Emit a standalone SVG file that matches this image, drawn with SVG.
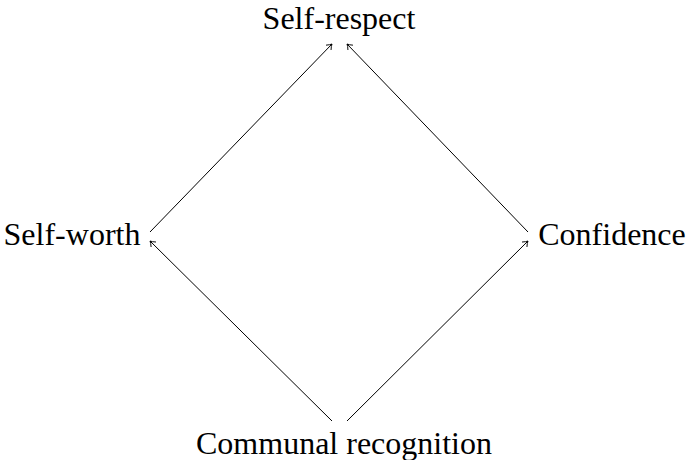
<svg xmlns="http://www.w3.org/2000/svg" width="686" height="460" viewBox="0 0 686 460">
<style>
text{font-family:"Liberation Serif","Times New Roman",serif;font-size:32px;fill:#000}
.c line{stroke:#000;stroke-width:1;fill:none;marker-end:url(#a)}
</style>
<defs>
<marker id="a" viewBox="-6 -4 7 8" refX="0" refY="0" markerWidth="7" markerHeight="8" orient="auto" markerUnits="userSpaceOnUse">
<path d="M-5,-3.5 Q-2,-0.8 0,0 Q-2,0.8 -5,3.5" fill="none" stroke="#000" stroke-width="0.9"/>
</marker>
</defs>
<rect width="686" height="460" fill="#fff"/>
<g id="self-respect"><text x="339" y="28.5" text-anchor="middle">Self-respect</text></g>
<g id="self-worth"><text x="72" y="245" text-anchor="middle">Self-worth</text></g>
<g id="confidence"><text x="612" y="245" text-anchor="middle">Confidence</text></g>
<g id="communal"><text x="344" y="454" text-anchor="middle">Communal recognition</text></g>
<g class="c">
<line x1="150" y1="232" x2="332" y2="44"/>
<line x1="528" y1="232" x2="347" y2="44"/>
<line x1="332" y1="421" x2="150" y2="241"/>
<line x1="347" y1="421" x2="528" y2="241"/>
</g>
</svg>
